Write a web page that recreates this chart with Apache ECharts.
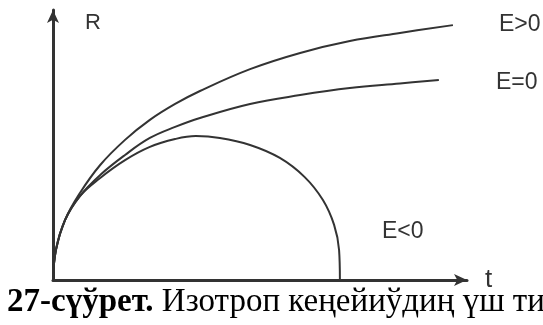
<!DOCTYPE html>
<html>
<head>
<meta charset="utf-8">
<script src="https://cdn.jsdelivr.net/npm/echarts@6/dist/echarts.min.js"></script>
<style>
  html, body { margin: 0; padding: 0; background: #fff; }
  #chart { width: 543px; height: 325px; }
</style>
</head>
<body>
<div id="chart"></div>
<script>
// Scale factor R against time t for the three kinds of isotropic expansion.
const seriesNames = ['E>0', 'E=0', 'E<0'];

// [t, R] pairs
const openCurve = [
  [0, 0], [0.07, 1.11], [0.29, 2.22], [0.65, 3.22], [1.14, 4.26], [1.74, 5.19],
  [2.34, 5.93], [2.95, 6.52], [3.55, 7.0], [4.76, 7.81], [5.97, 8.41],
  [7.17, 8.85], [8.38, 9.15], [9.66, 9.44]
];
const flatCurve = [
  [0, 0], [0.07, 1.11], [0.29, 2.22], [0.65, 3.11], [1.14, 3.89], [1.74, 4.63],
  [2.34, 5.26], [2.95, 5.67], [3.55, 6.0], [4.76, 6.52], [5.97, 6.85],
  [7.17, 7.11], [8.38, 7.28], [9.32, 7.41]
];
const closedCurve = [
  [0, 0], [0.07, 1.11], [0.29, 2.22], [0.65, 3.11], [1.14, 3.78], [1.74, 4.44],
  [2.34, 4.93], [2.95, 5.22], [3.45, 5.33], [4.03, 5.26], [4.76, 5.0],
  [5.48, 4.52], [6.08, 3.81], [6.52, 2.96], [6.79, 2.04], [6.91, 1.11], [6.93, 0]
];

const axisNames = { x: 't', y: 'R' };
const captionBold = '27-сүўрет.';
const captionText = 'Изотроп кеңейиўдиң үш типи';

const ink = '#333';
const chart = echarts.init(document.getElementById('chart'), null, { renderer: 'canvas' });

function curve(name, data) {
  return {
    name: name,
    type: 'line',
    data: data,
    smooth: 0.4,
    symbol: 'none',
    lineStyle: { color: ink, width: 2 },
    silent: true
  };
}

const axisBase = {
  type: 'value',
  min: 0,
  max: 10,
  axisLine: {
    show: true,
    onZero: false,
    symbol: ['none', 'arrow'],
    symbolSize: [9, 13],
    lineStyle: { color: ink, width: 3 }
  },
  axisTick: { show: false },
  axisLabel: { show: false },
  splitLine: { show: false }
};

chart.setOption({
  animation: false,
  backgroundColor: '#fff',
  grid: { left: 53, right: 76, top: 10, bottom: 45 },
  xAxis: Object.assign({}, axisBase, {
    name: axisNames.x,
    nameLocation: 'end',
    nameGap: 18,
    nameTextStyle: {
      fontFamily: 'Liberation Sans', fontSize: 26, color: ink,
      verticalAlign: 'bottom', padding: [0, 0, -13, 0]
    }
  }),
  yAxis: Object.assign({}, axisBase, {
    name: axisNames.y,
    nameLocation: 'end',
    nameGap: -24,
    nameTextStyle: {
      fontFamily: 'Liberation Sans', fontSize: 22, color: ink,
      align: 'left', padding: [0, 0, 0, 32]
    }
  }),
  series: [
    curve(seriesNames[0], openCurve),
    curve(seriesNames[1], flatCurve),
    curve(seriesNames[2], closedCurve)
  ],
  graphic: [
    { type: 'text', left: 499, top: 13, style: { text: seriesNames[0], font: '23px "Liberation Sans"', fill: ink } },
    { type: 'text', left: 496, top: 71, style: { text: seriesNames[1], font: '23px "Liberation Sans"', fill: ink } },
    { type: 'text', left: 382, top: 220, style: { text: seriesNames[2], font: '23px "Liberation Sans"', fill: ink } },
    {
      type: 'text', left: 7, top: 286,
      style: {
        text: '{b|' + captionBold + '}{n| ' + captionText + '}',
        rich: {
          b: { font: 'bold 33px "Liberation Serif"', fill: '#000' },
          n: { font: '33px "Liberation Serif"', fill: '#000' }
        }
      }
    }
  ]
});
</script>
</body>
</html>
